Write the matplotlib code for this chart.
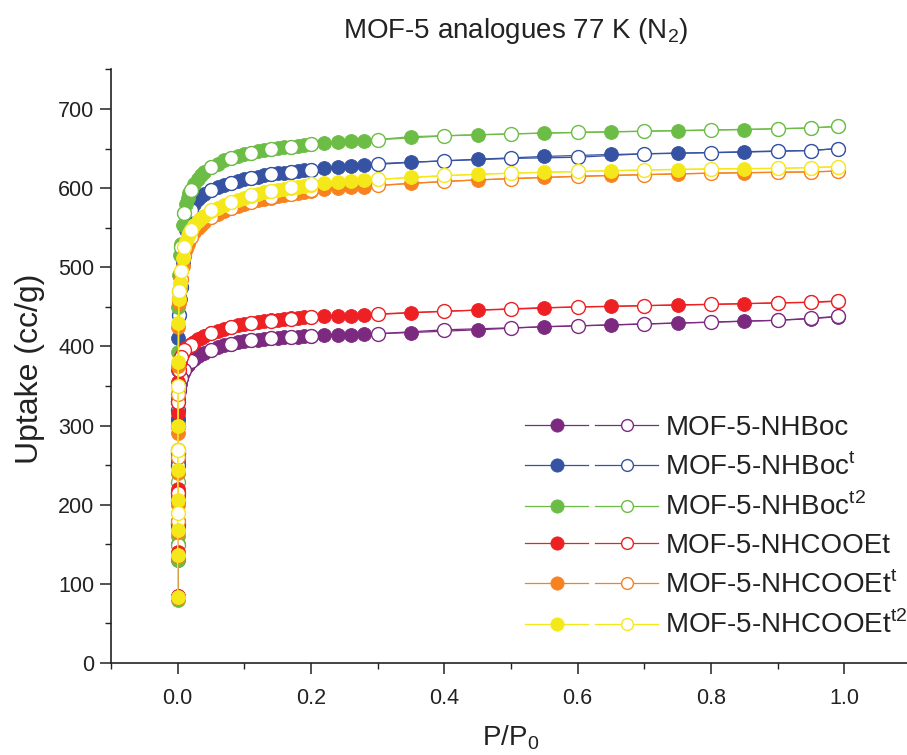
import matplotlib
matplotlib.use('Agg')
import matplotlib.pyplot as plt
from matplotlib.legend_handler import HandlerTuple
from matplotlib.lines import Line2D
from matplotlib.ticker import MultipleLocator

plt.rcParams['font.family'] = ['Liberation Sans', 'DejaVu Sans']

# ---------------- data ----------------
labels = ['MOF-5-NHBoc', 'MOF-5-NHBoc$^\\mathregular{t}$', 'MOF-5-NHBoc$^\\mathregular{t2}$',
          'MOF-5-NHCOOEt', 'MOF-5-NHCOOEt$^\\mathregular{t}$', 'MOF-5-NHCOOEt$^\\mathregular{t2}$']
colors = ['#7B2A80', '#3652A3', '#6CBD45', '#ED2024', '#F7821F', '#F5E81A']

x_ads = [0.00001, 0.00003, 0.00006, 0.0001, 0.0002, 0.0004, 0.0007, 0.0012, 0.002, 0.003,
         0.005, 0.0075, 0.01, 0.0125, 0.015, 0.0175, 0.02, 0.025, 0.03, 0.035, 0.04,
         0.05, 0.06, 0.07, 0.08, 0.09, 0.10, 0.11, 0.12, 0.13, 0.14, 0.15, 0.16, 0.17, 0.18, 0.19, 0.20,
         0.22, 0.24, 0.26, 0.28,
         0.35, 0.45, 0.55, 0.65, 0.75, 0.85,
         0.90, 0.95, 0.99]

x_des = [0.99, 0.95, 0.90, 0.80, 0.70, 0.60, 0.50, 0.40, 0.30, 0.20, 0.17, 0.14, 0.11, 0.08,
         0.05, 0.02, 0.01, 0.005, 0.002, 0.0008, 0.0003, 0.0001]

ads_nhboc = [83, 130, 170, 210, 250, 307, 320, 333, 344, 353,
             360, 366, 370, 373.5, 376.5, 379, 381, 384.5, 387.5, 390, 392,
             396, 399, 401.5, 403.5, 405, 406.5, 407.5, 408.5, 409.5, 410.5, 411, 411.5, 412, 412.5, 413, 413.5,
             414, 414.5, 415, 415.5,
             417.5, 421, 425, 427, 429.5, 432,
             433, 435, 437.5]
des_nhboc = [438, 435.5, 433, 430.5, 428.5, 426, 423.5, 421, 416, 413.5, 412, 410.5, 407.5, 403.5,
             396, 381, 370, 360, 345, 300, 265, 205]

ads_nhboc_t = [85, 150, 175, 215, 255, 310, 370, 410, 440, 460,
               475, 505, 530, 547, 558, 566, 572, 580, 586, 590, 593,
               598, 601.5, 604.5, 607, 609, 611, 613, 614.5, 616, 617.5, 618.5, 619.5, 620.5, 621.5, 622.5, 623.5,
               626, 627, 628, 629,
               632.5, 636.5, 640, 642.5, 644, 645.5,
               646.5, 647.5, 650]
des_nhboc_t = [650, 647.5, 647, 645, 643.5, 639, 637.5, 634.5, 631, 623.5, 620.5, 617.5, 613, 606,
               597, 572, 530, 475, 440, 320, 250, 175]

ads_nhboc_t2 = [80, 130, 160, 190, 240, 300, 393, 450, 490, 515,
                530, 553, 568, 580, 588, 594, 598, 605, 611, 616, 620,
                627, 631, 635, 638, 641, 643, 645, 646.5, 648, 649, 650.5, 651.5, 652.5, 653.5, 654.5, 655.5,
                657, 658, 659, 660,
                665, 667.5, 669.5, 671, 672.5, 674,
                675, 676, 678]
des_nhboc_t2 = [678, 676, 675, 673.5, 672, 670.5, 668.5, 666, 661, 656, 652.5, 649, 644.5, 638,
                627, 598, 568, 525, 470, 330, 229, 149]

ads_nhcooet = [85, 140, 180, 220, 260, 316, 335, 355, 370, 380,
               387, 392, 395, 397.5, 399.5, 401, 403, 406, 409, 411, 413,
               416.5, 419.5, 422, 424.5, 426.5, 428, 429.5, 431, 432, 433, 434, 435, 435.5, 436.5, 437, 437.5,
               438, 438.5, 439, 439.5,
               442.5, 446, 449, 450.5, 452.5, 454,
               455, 455.5, 457]
des_nhcooet = [457.5, 456, 455, 453, 451.5, 450, 447, 444.5, 441, 437.5, 435, 432.5, 429, 425,
               416.5, 402, 395, 387, 370, 330, 269, 215]

ads_nhcooet_t = [82, 135, 165, 200, 240, 290, 375, 425, 455, 472,
                 485, 502, 514, 523, 529, 534, 538, 544, 549, 553, 557,
                 563, 567, 571, 574.5, 577.5, 580, 582.5, 584.5, 586.5, 588, 589.5, 591, 592.5, 594, 595, 596.5,
                 599, 600, 601, 602,
                 606, 610.5, 613.5, 616, 618, 619.5,
                 620, 620.5, 621.5]
des_nhcooet_t = [621.5, 620.5, 620, 619, 617, 615, 612, 608.5, 603.5, 597, 593, 588.5, 583, 575,
                 564, 538, 514, 485, 460, 340, 260, 180]

ads_nhcooet_t2 = [84, 137, 168, 206, 244, 300, 380, 430, 460, 480,
                  495, 512, 525, 533, 539, 543, 547, 553, 558, 562, 565,
                  571, 575, 579, 582.5, 585.5, 588, 590.5, 592.5, 594.5, 596, 597.5, 599, 600.5, 602, 603, 604.5,
                  607, 608, 609, 610,
                  613.5, 617.5, 620, 622, 623.5, 624.5,
                  625, 626, 627]
des_nhcooet_t2 = [627, 626, 625, 624.5, 623, 621, 619, 616, 611, 605, 601, 596.5, 591, 583,
                  572, 547, 525, 495, 470, 350, 269, 190]

ads_all = [ads_nhboc, ads_nhboc_t, ads_nhboc_t2, ads_nhcooet, ads_nhcooet_t, ads_nhcooet_t2]
des_all = [des_nhboc, des_nhboc_t, des_nhboc_t2, des_nhcooet, des_nhcooet_t, des_nhcooet_t2]

x_ticks = [0.0, 0.2, 0.4, 0.6, 0.8, 1.0]
y_ticks = [0, 100, 200, 300, 400, 500, 600, 700]

# ---------------- figure ----------------
fig = plt.figure(figsize=(9.07, 7.55), dpi=100)
ax = fig.add_axes([111 / 907, 92 / 755, 800 / 907, 593.6 / 755])

MS = 10
LW = 0.9
handles = []
for c, ya, yd in zip(colors, ads_all, des_all):
    ax.plot(x_ads, ya, '-', color=c, lw=LW, marker='o', ms=MS, mfc=c, mec=c, mew=0.6)
    ax.plot(x_des, yd, '-', color=c, lw=LW, marker='o', ms=MS, mfc='white', mec=c, mew=1.0)
    h1 = Line2D([], [], color=c, lw=LW, marker='o', ms=9.5, mfc=c, mec=c, mew=0.6)
    h2 = Line2D([], [], color=c, lw=LW, marker='o', ms=8.5, mfc='white', mec=c, mew=1.0)
    handles.append((h1, h2))

ax.set_xlim(-0.1, 1.1)
ax.set_ylim(0, 750)
ax.set_xticks(x_ticks)
ax.set_xticklabels([f'{v:.1f}' for v in x_ticks])
ax.set_yticks(y_ticks)
ax.set_xticks([-0.1, 0.1, 0.3, 0.5, 0.7, 0.9], minor=True)
ax.yaxis.set_minor_locator(MultipleLocator(50))

for s in ['top', 'right']:
    ax.spines[s].set_visible(False)
for s in ['left', 'bottom']:
    ax.spines[s].set_linewidth(1.2)
    ax.spines[s].set_color('#222222')

ax.tick_params(which='major', direction='out', length=8, width=1.1, labelsize=15.5,
               colors='#222222', labelcolor='#222222')
ax.tick_params(axis='x', which='major', pad=10)
ax.tick_params(axis='y', which='major', pad=4)
ax.tick_params(which='minor', direction='out', length=4, width=1.0, colors='#222222')

fig.text(516 / 907, 1 - 31 / 755, 'MOF-5 analogues 77 K (N$_\\mathregular{2}$)',
         ha='center', va='center', fontsize=20, color='#222222')
fig.text(511 / 907, 1 - 745 / 755, 'P/P$_\\mathregular{0}$', ha='center', va='baseline',
         fontsize=20, color='#222222')
fig.text(30 / 907, 1 - 369 / 755, 'Uptake (cc/g)', ha='center', va='center', rotation=90,
         fontsize=23, color='#222222')

fig.legend(handles, labels, handler_map={tuple: HandlerTuple(ndivide=None, pad=0.25)},
           loc='upper left', bbox_to_anchor=(525 / 907, 1 - 415 / 755), frameon=False,
           fontsize=20, handlelength=4.8, handletextpad=0.25, labelspacing=0.42,
           borderpad=0, borderaxespad=0, labelcolor='#222222')

fig.savefig('out.png', dpi=100)
